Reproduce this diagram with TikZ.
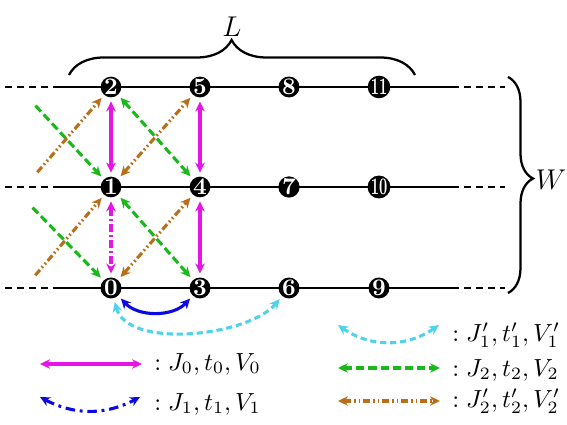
\documentclass[tikz,border=0pt]{standalone}
\usepackage{graphicx}
\usetikzlibrary{arrows.meta,decorations.pathreplacing}
\definecolor{cmag}{RGB}{230,20,230}
\definecolor{cgreen}{RGB}{25,185,25}
\definecolor{cbrown}{RGB}{185,110,25}
\definecolor{ccyan}{RGB}{80,210,235}
\definecolor{cblue}{RGB}{10,10,225}
\begin{document}
\begin{tikzpicture}[x=0.42pt,y=0.42pt,
  >={Stealth[length=4.2pt,width=4pt]},
  site/.style={circle,fill=black,text=white,inner sep=0pt,minimum size=8.4pt,font=\bfseries},
  chain/.style={line width=0.95pt},
  ext/.style={line width=0.95pt,dash pattern=on 3pt off 2pt},
  hop/.style={line width=1.3pt,shorten <=1.5pt,shorten >=1.5pt},
  magsolid/.style={hop,cmag},
  magdd/.style={hop,cmag,dash pattern=on 3.4pt off 1.3pt on 0.8pt off 1.3pt},
  greendash/.style={hop,cgreen,dash pattern=on 3.4pt off 1.7pt},
  browndd/.style={hop,cbrown,dash pattern=on 3pt off 1.2pt on 0.7pt off 1.2pt on 0.7pt off 1.2pt},
  cyandash/.style={hop,ccyan,dash pattern=on 2.6pt off 1.6pt},
  bluesolid/.style={hop,cblue},
  bluedd/.style={hop,cblue,dash pattern=on 4pt off 2pt on 1.2pt off 2pt},
  lab/.style={anchor=west,inner sep=0pt},
  bracestyle/.style={decorate,line width=0.95pt}
]
\useasboundingbox (0,0) rectangle (567,425);

% lattice lines
\foreach \r/\yy in {t/338,m/238,b/137}{
  \coordinate (\r dl) at (5,\yy);
  \coordinate (\r sl) at (57,\yy);
  \coordinate (\r sr) at (452,\yy);
  \coordinate (\r dr) at (505,\yy);
  \draw[ext] (\r dl) -- (\r sl);
  \draw[chain] (\r sl) -- (\r sr);
  \draw[ext] (\r sr) -- (\r dr);
}

% sites
\node[site] (n0) at (111,137) {0};
\node[site] (n3) at (200,137) {3};
\node[site] (n6) at (289,137) {6};
\node[site] (n9) at (379,137) {9};
\node[site] (n1) at (111,238) {1};
\node[site] (n4) at (200,238) {4};
\node[site] (n7) at (289,238) {7};
\node[site] (n10) at (379,238) {\scalebox{0.6}[1]{10}};
\node[site] (n2) at (111,338) {2};
\node[site] (n5) at (200,338) {5};
\node[site] (n8) at (289,338) {8};
\node[site] (n11) at (379,338) {\scalebox{0.6}[1]{11}};

% braces
\coordinate (La) at (69,350);
\coordinate (Lb) at (415,350);
\draw[bracestyle,decoration={brace,amplitude=14.7pt,aspect=0.47}] (La) -- (Lb);
\node (Llab) at (232,398) {\large$L$};
\coordinate (Wa) at (508,348);
\coordinate (Wb) at (508,132);
\draw[bracestyle,decoration={brace,amplitude=10.5pt,aspect=0.47}] (Wa) -- (Wb);
\node (Wlab) at (551,245) {\large$W$};

% free ends
\coordinate (g1) at (33,322);
\coordinate (g2) at (30,220);
\coordinate (b1) at (35,250);
\coordinate (b2) at (33,147);

% magenta
\draw[magsolid,<->] (n2) -- (n1);
\draw[magsolid,<->] (n5) -- (n4);
\draw[magsolid,<->] (n4) -- (n3);
\draw[magdd,<->] (n1) -- (n0);

% green
\draw[greendash,->] (g1) -- (n1);
\draw[greendash,<->] (n2) -- (n4);
\draw[greendash,<->] (n1) -- (n3);
\draw[greendash,->] (g2) -- (n0);

% brown
\draw[browndd,->] (b1) -- (n2);
\draw[browndd,<->] (n1) -- (n5);
\draw[browndd,->] (b2) -- (n1);
\draw[browndd,<->] (n0) -- (n4);

% curved
\draw[bluesolid,<->] (n0) to[bend right=47] (n3);
\draw[cyandash,<->] (n0) to[out=-75,in=-130,looseness=0.8] (n6);

% legend
\coordinate (l1a) at (40,61);  \coordinate (l1b) at (142,61);
\coordinate (l2a) at (40,28);  \coordinate (l2b) at (140,28);
\coordinate (l3a) at (338,100); \coordinate (l3b) at (439,100);
\coordinate (l4a) at (338,57); \coordinate (l4b) at (440,57);
\coordinate (l5a) at (338,24); \coordinate (l5b) at (440,24);
\draw[magsolid,<->,shorten <=0pt,shorten >=0pt] (l1a) -- (l1b);
\draw[bluedd,<->,shorten <=0pt,shorten >=0pt] (l2a) to[bend right=28] (l2b);
\draw[cyandash,<->,shorten <=0pt,shorten >=0pt] (l3a) to[bend right=35] (l3b);
\draw[greendash,<->,shorten <=0pt,shorten >=0pt] (l4a) -- (l4b);
\draw[browndd,<->,shorten <=0pt,shorten >=0pt] (l5a) -- (l5b);

\node[lab] (t1) at (154,61) {\scalebox{1.04}{$:J_0,t_0,V_0$}};
\node[lab] (t2) at (154,21) {\scalebox{1.04}{$:J_1,t_1,V_1$}};
\node[lab] (t3) at (452,90) {\scalebox{1.04}{$:J_1',t_1',V_1'$}};
\node[lab] (t4) at (452,55) {\scalebox{1.04}{$:J_2,t_2,V_2$}};
\node[lab] (t5) at (452,24) {\scalebox{1.04}{$:J_2',t_2',V_2'$}};
\end{tikzpicture}
\end{document}
